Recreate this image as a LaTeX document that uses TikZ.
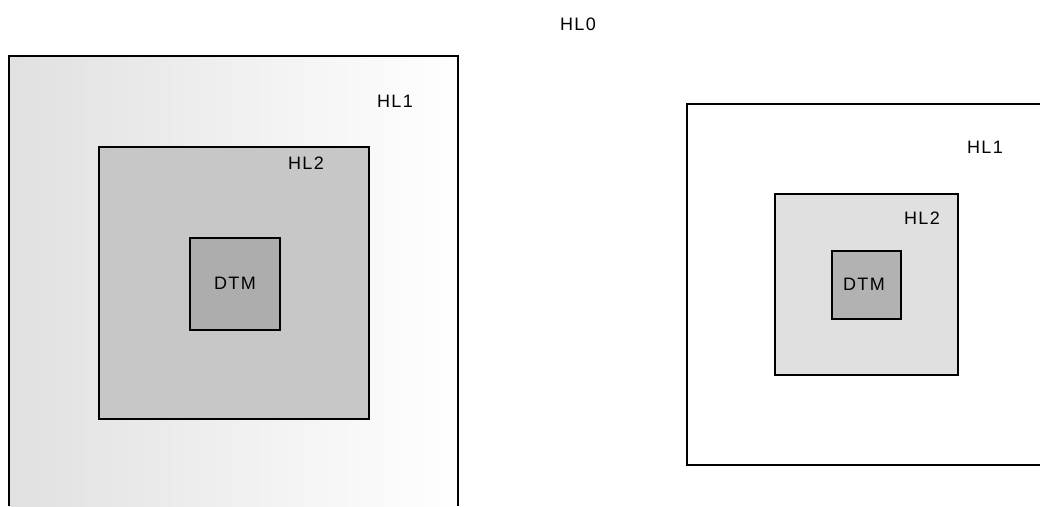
\documentclass[tikz,border=0pt]{standalone}
\usepackage{fontspec}
\setmainfont{Liberation Sans}
\newfontfamily\lblfont[LetterSpace=8]{Liberation Sans}
\begin{document}
\begin{tikzpicture}[x=1pt,y=-1pt,
  lbl/.style={font=\lblfont\fontsize{18}{20}\selectfont, inner sep=0pt, anchor=center},
  boxline/.style={draw=black, line width=1.6pt},
  innerbox/.style={boxline, inner sep=0pt, anchor=north west}]
\useasboundingbox (0,0) rectangle (1040,506);
% left HL1 region (open at bottom)
\fill[left color=black!12, right color=white] (9,56) rectangle (458,506);
\draw[boxline] (9,506) -- (9,56) -- (458,56) -- (458,506);
\node[innerbox, fill=black!22, minimum width=270pt, minimum height=272pt] (lhl2) at (98,146) {};
\node[innerbox, fill=black!32, minimum width=90pt, minimum height=92pt] (ldtm) at (189,237) {};
\node[lbl] (lhl1t) at (395,101) {HL1};
\node[lbl] (lhl2t) at (306,163) {HL2};
\node[lbl] (ldtmt) at (235,283) {DTM};
% right HL1 region (cut at right)
\draw[boxline] (1040,104) -- (687,104) -- (687,465) -- (1040,465);
\node[innerbox, fill=black!12, minimum width=183pt, minimum height=181pt] (rhl2) at (774,193) {};
\node[innerbox, fill=black!30, minimum width=69pt, minimum height=68pt] (rdtm) at (831,250) {};
\node[lbl] (rhl1t) at (985,147) {HL1};
\node[lbl] (rhl2t) at (922,218) {HL2};
\node[lbl] (rdtmt) at (864,284) {DTM};
% top label
\node[lbl] (hl0) at (578,24) {HL0};
\end{tikzpicture}
\end{document}
